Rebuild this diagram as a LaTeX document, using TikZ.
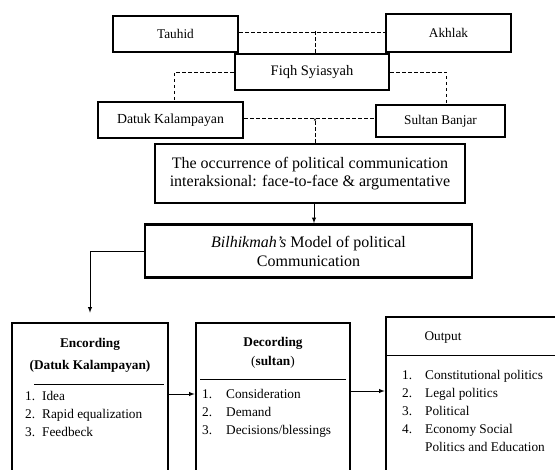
\documentclass[tikz,border=0pt]{standalone}
\usepackage{fontspec}
\setmainfont{Liberation Serif}
\usetikzlibrary{calc,positioning,arrows,arrows.meta}

\begin{document}
\begin{tikzpicture}[x=1pt,y=-1pt,>=latex,
  box/.style={draw,line width=2.6pt,rectangle,inner sep=0pt,align=center},
  dsh/.style={line width=0.8pt,dash pattern=on 3.5pt off 2.5pt},
  arr/.style={->,line width=0.9pt},
  lst/.style={anchor=north west,inner sep=0pt,font=\fontsize{13.3}{18}\selectfont}]
\useasboundingbox (0,0) rectangle (555,470);
% top row
\node[box,minimum width=125pt,minimum height=36pt,font=\fontsize{13.3}{15}\selectfont] (tauhid) at (175.5,34) {Tauhid};
\node[box,minimum width=125pt,minimum height=38pt,font=\fontsize{13.3}{15}\selectfont] (akhlak) at (448.5,33) {Akhlak};
\node[box,minimum width=154pt,minimum height=36pt,font=\fontsize{14.5}{17}\selectfont] (fiqh) at (312,72) {Fiqh Syiasyah};
\node[box,minimum width=145pt,minimum height=36pt,font=\fontsize{13.8}{15}\selectfont] (datuk) at (170.5,120) {Datuk Kalampayan};
\node[box,minimum width=129pt,minimum height=32pt,font=\fontsize{13.3}{15}\selectfont] (sultan) at (440.5,121) {Sultan Banjar};
\node[box,minimum width=310pt,minimum height=59pt,font=\fontsize{16}{18.5}\selectfont] (occur) at (310,173.5)
  {The occurrence of political communication\\interaksional: face-to-face \& argumentative};
\node[box,minimum width=327pt,minimum height=53pt,font=\fontsize{16}{19}\selectfont] (model) at (308.5,251)
  {\textit{Bilhikmah's} Model of political\\Communication};
% bottom row
\node[box,minimum width=156pt,minimum height=157pt] (enc) at (90,401.5) {};
\node[box,minimum width=154pt,minimum height=157pt] (dec) at (273,401.5) {};
\node[box,minimum width=184pt,minimum height=163pt] (outp) at (478,398.5) {};
\node[align=center,font=\bfseries\fontsize{13.3}{22}\selectfont] (enct) at (90,355) {Encording\\(Datuk Kalampayan)};
\node[align=center,font=\fontsize{13.3}{19}\selectfont] (dect) at (273,352.5) {\textbf{Decording}\\(\textbf{sultan})};
\node[font=\fontsize{13.3}{16}\selectfont] (outt) at (443,338) {Output};
\draw[line width=0.9pt] (34,384) -- (164,384);
\draw[line width=0.9pt] (200,379) -- (346,379);
\draw[line width=0.9pt] (386,355) -- (555,355);
\node[lst] (encl) at (25,388) {\begin{tabular}{@{}l@{\hspace{7pt}}l@{}}
  1. & Idea\\ 2. & Rapid equalization\\ 3. & Feedbeck\end{tabular}};
\node[lst] (decl) at (202,386) {\begin{tabular}{@{}l@{\hspace{14pt}}l@{}}
  1. & Consideration\\ 2. & Demand\\ 3. & Decisions/blessings\end{tabular}};
\node[lst] (outl) at (402,367) {\begin{tabular}{@{}l@{\hspace{13pt}}l@{}}
  1. & Constitutional politics\\ 2. & Legal politics\\ 3. & Political\\
  4. & Economy Social\\ & Politics and Education\end{tabular}};
% dashed links
\coordinate (tj) at ($(tauhid.east)!0.5!(akhlak.west)+(3,-2)$);
\coordinate (dj) at ([xshift=5pt]occur.north |- datuk.east);
\draw[dsh] ([yshift=2pt]tauhid.east) -- ([yshift=1pt]akhlak.west);
\draw[dsh] (tj) -- (tj |- fiqh.north);
\draw[dsh] (fiqh.west) -| ([xshift=4pt]datuk.north);
\draw[dsh] (fiqh.east) -| ([xshift=6pt]sultan.north);
\draw[dsh] ([yshift=2pt]datuk.east) -- ([yshift=3pt]sultan.west);
\draw[dsh,-{Stealth[length=3pt]}] (dj |- occur.north) -- ([yshift=2pt]dj);
% arrows
\draw[arr] ([xshift=4pt]occur.south) -- ([xshift=4pt]occur.south |- model.north);
\draw[arr,shorten >=9pt] (model.west) -| (enc.north);
\draw[arr] ([yshift=7.5pt]enc.east) -- ([yshift=7.5pt]dec.west);
\draw[arr] ([yshift=10.5pt]dec.east) -- ([yshift=7.5pt]outp.west);
\end{tikzpicture}
\end{document}
